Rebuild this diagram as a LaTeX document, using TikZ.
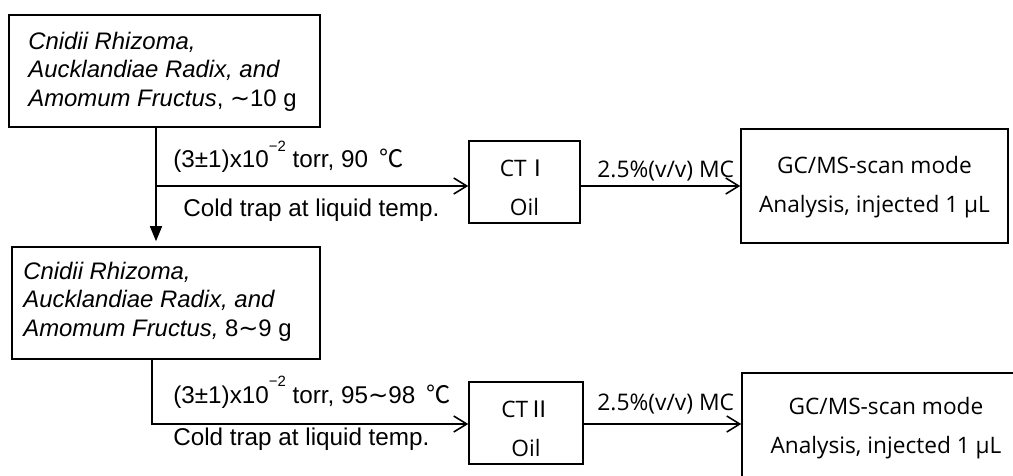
\documentclass[tikz,border=0pt]{standalone}
\usepackage{fontspec}
\setmainfont{Liberation Sans}
\newfontfamily\gcfont{Open Sans}
\newfontfamily\cjkfont{Noto Sans CJK KR}
\newfontfamily\symfont{DejaVu Sans}
\usetikzlibrary{arrows.meta}

\newcommand{\degC}{\hspace{0.45em}{\cjkfont ℃}}
\newcommand{\wave}{{\symfont ∼}}
\newcommand{\tenexp}{x10\raisebox{9.5pt}{\fontsize{8.5}{8.5}\selectfont −2}}
\newcommand{\upstrut}[1]{\rule{0pt}{#1}}

\begin{document}
\begin{tikzpicture}[x=0.02cm, y=-0.02cm,
  box/.style={draw, line width=0.9pt, inner sep=0pt},
  srctext/.style={anchor=north west, inner sep=0pt, align=left, font=\fontsize{13.6}{16.1}\selectfont},
  gcbox/.style={box, align=center, font=\gcfont\fontsize{12.9}{22.2}\selectfont},
  lbl/.style={anchor=base west, inner sep=0pt, font=\fontsize{13.8}{15.9}\selectfont},
  mclbl/.style={anchor=base west, inner sep=0pt, font=\gcfont\fontsize{13}{15}\selectfont},
  arrow/.style={-{Straight Barb[length=0.26cm, width=0.32cm]}, line width=0.9pt},
  down/.style={-{Triangle[length=0.3cm, width=0.24cm]}, line width=0.9pt, shorten >=0.1cm}
]
\useasboundingbox (0,0) rectangle (1013,476);

% raw material boxes
\node[box, minimum width=6.22cm, minimum height=2.24cm] (src1) at (164.5,71) {};
\node[srctext] (src1txt) at (28,32) {\textit{Cnidii Rhizoma,}\\ \textit{Aucklandiae Radix, and}\\ \textit{Amomum Fructus}, \wave10 g};
\node[box, minimum width=6.16cm, minimum height=2.24cm] (src2) at (166,303) {};
\node[srctext] (src2txt) at (23,262) {\textit{Cnidii Rhizoma,}\\ \textit{Aucklandiae Radix, and}\\ \textit{Amomum Fructus,} 8\wave9 g};

% cold traps and analysis
\node[gcbox, minimum width=2.22cm, minimum height=1.64cm] (ct1) at (524.5,182) {\upstrut{16pt}CT{\cjkfont Ⅰ}\\Oil};
\node[gcbox, minimum width=2.28cm, minimum height=1.64cm] (ct2) at (526,423) {\upstrut{16pt}CT{\cjkfont Ⅱ}\\Oil};
\node[gcbox, minimum width=5.34cm, minimum height=2.28cm] (gc1) at (874.5,186) {\upstrut{11pt}GC/MS-scan mode\\Analysis, injected 1 µL};
\node[gcbox, minimum width=5.76cm, minimum height=2.08cm] (gc2) at (886,425) {\upstrut{13pt}GC/MS-scan mode\\Analysis, injected 1 µL};

\coordinate (j1) at (156,186);
\coordinate (j2) at (152,424);

% labels
\node[lbl] (cond1) at (173,168) {(3±1)\tenexp{} torr, 90\degC};
\node[lbl] (trap1) at (183,216) {Cold trap at liquid temp.};
\node[lbl] (cond2) at (173,403) {(3±1)\tenexp{} torr, 95\wave98\degC};
\node[lbl] (trap2) at (173,445) {Cold trap at liquid temp.};
\node[mclbl] (mc1) at (597,177) {2.5\%(v/v) MC};
\node[mclbl] (mc2) at (597,410) {2.5\%(v/v) MC};

\draw[down] (src1.south -| j1) -- (src2.north -| j1);
\draw[arrow] (j1) -- (ct1.west |- j1);
\draw[arrow] (ct1.east |- j1) -- (gc1.west |- j1);
\draw[arrow] (src2.south -| j2) -- (j2) -- (ct2.west |- j2);
\draw[arrow] (ct2.east |- j2) -- (gc2.west |- j2);
\end{tikzpicture}
\end{document}
